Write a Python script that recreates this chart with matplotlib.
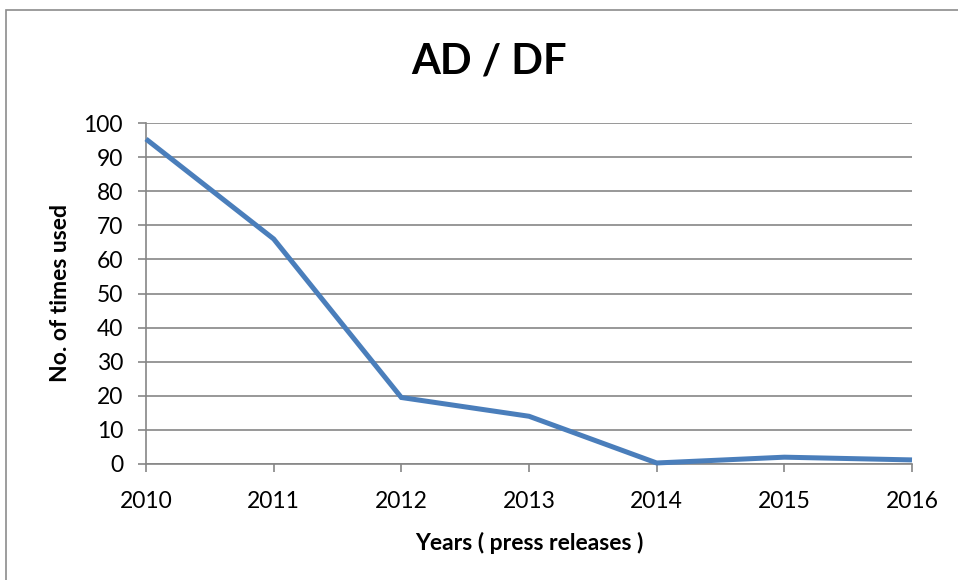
import matplotlib.pyplot as plt
from matplotlib.patches import Rectangle

#===============================================================================#
# data                                                                          #
#===============================================================================#

years = [2010, 2011, 2012, 2013, 2014, 2015, 2016]
times_used = [95.3, 66, 19.5, 14, 0.3, 2, 1.2]
y_ticks = list(range(0, 101, 10))

title = "AD / DF"
x_label = "Years ( press releases )"
y_label = "No. of times used"

#===============================================================================#
# plot                                                                          #
#===============================================================================#

plt.rcParams['font.family'] = ['Lato', 'DejaVu Sans']

grid_col = '#868686'
line_col = '#4a7ebb'
W, H = 958, 580

fig = plt.figure(figsize=(W / 100, H / 100), dpi=100)
ax = fig.add_axes([146 / W, 1 - 464 / H, (912 - 146) / W, (464 - 123) / H])

ax.plot(years, times_used, color=line_col, lw=3.6, solid_joinstyle='miter',
        solid_capstyle='butt', zorder=3, clip_on=False)

ax.set_xlim(years[0], years[-1])
ax.set_ylim(0, 100)
ax.set_xticks(years)
ax.set_yticks(y_ticks)
ax.yaxis.grid(True, color=grid_col, lw=1.2)
ax.set_axisbelow(True)

for side in ['top', 'right']:
    ax.spines[side].set_visible(False)
for side in ['left', 'bottom']:
    ax.spines[side].set_color(grid_col)
    ax.spines[side].set_linewidth(1.2)

ax.tick_params(axis='both', colors=grid_col, width=1.2, length=5.5, labelsize=16.5, labelcolor='black')
ax.tick_params(axis='x', pad=14)
ax.tick_params(axis='y', pad=11)

ax.set_xlabel(x_label, fontsize=16.5, fontweight='bold', labelpad=14)
ax.set_ylabel(y_label, fontsize=16.5, fontweight='bold', labelpad=9)

fig.text(489 / W, 1 - 62 / H, title, ha='center', va='center', fontsize=30, fontweight='bold')

# outer chart border (cropped on right/bottom)
fig.patches.append(Rectangle((6 / W, -0.1), 1.2, 1 - 10 / H + 0.1, transform=fig.transFigure,
                             fill=False, edgecolor='#8c8c8c', lw=1.2))

fig.savefig('out.png', dpi=100)
